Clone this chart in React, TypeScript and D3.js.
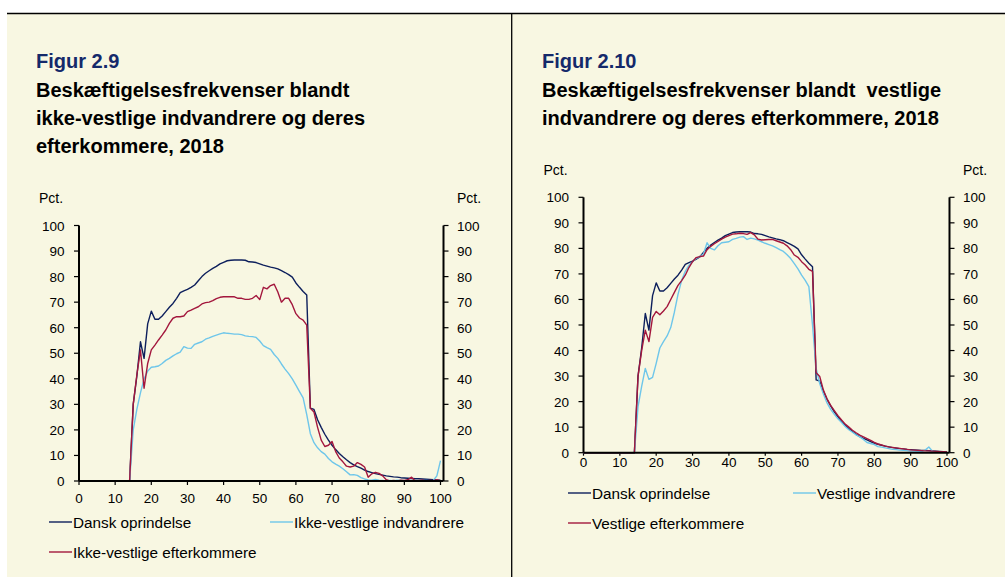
import React from "react";
import * as d3 from "d3";

const ages: number[] = d3.range(0, 101);
const yTicks: number[] = [0, 10, 20, 30, 40, 50, 60, 70, 80, 90, 100];
const xTicks: number[] = [0, 10, 20, 30, 40, 50, 60, 70, 80, 90, 100];

const zeros15 = [0, 0, 0, 0, 0, 0, 0, 0, 0, 0, 0, 0, 0, 0, 0];

// Dansk oprindelse (ages 0-100)
const danskOprindelse: number[] = [
  ...zeros15,
  30, 41, 54.5, 48, 61.5, 66.5, 63.3, 63.3, 64.6, 66.3,
  68, 69.5, 71.5, 73.7, 74.4, 75, 75.8, 76.7, 78.4, 80,
  81.3, 82.3, 83.2, 84, 85, 85.6, 86.2, 86.4, 86.5, 86.5,
  86.5, 86.4, 85.8, 85.7, 85.5, 85, 84.5, 84.1, 83.7, 83.4,
  83, 82.3, 81.6, 80.8, 79.8, 77.5, 75.8, 74.2, 72.8, 28.5,
  28, 24, 21, 18.3, 16, 14, 12.3, 10.8, 9.5, 8.3,
  7.2, 6.3, 5.6, 5, 4.3, 3.7, 3.3, 2.9, 2.6, 2.3,
  2, 1.8, 1.6, 1.5, 1.3, 1.2, 1.1, 1, 0.9, 0.9,
  0.8, 0.7, 0.6, 0.5, 0.4, 0.3,
];

// Ikke-vestlige indvandrere
const ikkeVestligeIndvandrere: number[] = [
  ...zeros15,
  20, 28, 34.5, 40, 43, 44.5, 44.7, 45, 46, 47.2,
  48, 49, 49.8, 50.4, 52.6, 52, 51.9, 53.5, 54, 54.5,
  55.5, 56, 56.6, 57.1, 57.6, 58, 57.8, 57.7, 57.5, 57.5,
  57.3, 56.8, 56.6, 56.5, 56.2, 54.8, 53, 52.2, 51.5, 49.5,
  48, 45.8, 43.8, 42, 40, 37.5, 35, 32.5, 26, 18.5,
  15, 13, 11.5, 10.5, 8.8, 7.5, 6.6, 5.8, 4.8, 3.6,
  2.4, 2.5, 2.2, 1.3, 0.8, 0.4, 0.3, 0.6, 0.3, 0.2,
  0, 0.2, 0.1, 0.3, 0.2, 0.1, 0.3, 0.2, 0.1, 0.2,
  0.1, 0.2, 0.1, 0.2, 2, 8,
];

// Ikke-vestlige efterkommere
const ikkeVestligeEfterkommere: number[] = [
  ...zeros15,
  30, 41.5, 51.3, 36.3, 46, 51.3, 53.2, 55.2, 57.1, 59.1,
  61.7, 63.7, 64.3, 64.3, 64.6, 66.3, 66.9, 67.6, 68.2, 69.3,
  69.8, 70, 70.6, 71.4, 71.9, 72.1, 72.1, 72.1, 72.1, 71.5,
  71.5, 71.1, 71.1, 71.5, 72.6, 71, 75.8, 75.2, 76.5, 77,
  74, 70, 71.5, 71.5, 69, 65.5, 63.8, 63, 61, 28.5,
  27, 21, 16, 13.5, 14, 15.5, 11.5, 9, 7.5, 5.8,
  5.5, 5.8, 7.2, 6.5, 5.5, 1.5, 2.8, 3.4, 3, 2,
  0.5, 0, 0.2, 0, 0.3, 0.2, 0.5, 1.5, 0, 0.2,
  0.3, 0, 0.2, 0.1, 0.5, 0,
];

// Vestlige indvandrere
const vestligeIndvandrere: number[] = [
  ...zeros15,
  18, 26, 33, 28.7, 29.5, 35, 41, 43.5, 45.7, 49,
  55, 62, 67.5, 71, 73.3, 74.8, 76.1, 76.8, 77.8, 82.2,
  80, 79.4, 81, 82.2, 82.4, 82.6, 83.5, 83.9, 84.4, 84.6,
  83.5, 84, 83.7, 83.2, 82.6, 82, 81.5, 81, 80.3, 79.5,
  78.8, 77.5, 76, 74, 72, 69.5, 67.5, 65, 50, 33,
  27, 23, 19.5, 17, 15, 13.3, 11.8, 10.3, 9, 8,
  7, 6.2, 5.2, 4, 3.6, 3.2, 2.4, 2.2, 1.9, 1.6,
  1.3, 1.2, 1, 0.9, 0.8, 0.6, 0.6, 0.5, 0.4, 1,
  2.2, 0.6, 0.3, 0.3, 0.2, 0.1,
];

// Vestlige efterkommere
const vestligeEfterkommere: number[] = [
  ...zeros15,
  30, 40, 48, 43.5, 53, 55.3, 54, 55.5, 57.2, 60,
  62.8, 65.5, 67.4, 69.5, 72.5, 74.8, 76.4, 76.8, 77, 79.5,
  80.8, 81.8, 82.7, 83.6, 84.4, 85, 85.6, 85.7, 85.9, 85.8,
  85.5, 86.2, 85.3, 83.6, 83.3, 83.4, 83.5, 83.5, 83, 82.5,
  82, 81, 79.5, 77.4, 76.5, 74.8, 73.5, 71.8, 71, 31.3,
  29.8, 24.5, 21, 18.5, 16.5, 14.5, 12.8, 11.2, 10, 8.8,
  7.8, 6.9, 6.2, 5.5, 4.8, 4, 3.4, 3, 2.6, 2.3,
  2.1, 1.9, 1.7, 1.5, 1.3, 1.1, 1, 0.9, 0.8, 0.7,
  0.7, 0.6, 0.5, 0.4, 0.4, 0.3,
];

const NAVY = "#0d1f5c";
const RED = "#a3173d";
const LIGHT = "#6ec6ea";
const BG = "#f8f7e2";
const FONT = "Arial, 'Liberation Sans', sans-serif";

type Series = { name: string; values: number[]; color: string };

type Geo = {
  figX: number;
  xLeft: number;
  xRight: number;
  yBottom: number;
  yTop: number;
  rightAxis: number;
  xLabelY: number;
  xTickLen: number;
  legendY: number;
  legendCols: number[];
};

function Panel({
  fig,
  titleLines,
  series,
  legendOrder,
  g,
}: {
  fig: string;
  titleLines: string[];
  series: Series[];
  legendOrder: number[][];
  g: Geo;
}) {
  const x = d3.scaleLinear().domain([0, 100]).range([g.xLeft, g.xRight]);
  const y = d3.scaleLinear().domain([0, 100]).range([g.yBottom, g.yTop]);
  const line = d3
    .line<number>()
    .x((_, i) => x(ages[i]))
    .y((d) => y(d));

  return (
    <g fontFamily={FONT}>
      <text x={g.figX} y={68} fontSize={20} fontWeight="bold" fill="#14296a">
        {fig}
      </text>
      {titleLines.map((t, i) => (
        <text
          key={i}
          x={g.figX}
          y={97 + i * 28}
          fontSize={20}
          fontWeight="bold"
          fill="#000"
          xmlSpace="preserve"
          style={{ whiteSpace: "pre" }}
        >
          {t}
        </text>
      ))}
      <text x={g.xLeft - 40} y={y(100) - 22.5} fontSize={14} fill="#000">
        Pct.
      </text>
      <text x={g.rightAxis + 13.5} y={y(100) - 22.5} fontSize={14} fill="#000">
        Pct.
      </text>
      {yTicks.map((t) => (
        <g key={t}>
          <line x1={g.xLeft - 5} x2={g.xLeft} y1={y(t)} y2={y(t)} stroke="#000" strokeWidth={1.2} />
          <text x={g.xLeft - 14.5} y={y(t) + 5} fontSize={13.5} textAnchor="end" fill="#000">
            {t}
          </text>
          <line x1={g.rightAxis} x2={g.rightAxis + 5} y1={y(t)} y2={y(t)} stroke="#000" strokeWidth={1.2} />
          <text x={g.rightAxis + 13.5} y={y(t) + 5} fontSize={13.5} fill="#000">
            {t}
          </text>
        </g>
      ))}
      {xTicks.map((t) => (
        <g key={t}>
          <line x1={x(t)} x2={x(t)} y1={g.yBottom} y2={g.yBottom + g.xTickLen} stroke="#000" strokeWidth={1.2} />
          <text x={x(t)} y={g.xLabelY} fontSize={13.5} textAnchor="middle" fill="#000">
            {t}
          </text>
        </g>
      ))}
      {series.map((s) => (
        <path key={s.name} d={line(s.values) || ""} fill="none" stroke={s.color} strokeWidth={1.4} strokeLinejoin="round" />
      ))}
      <line x1={g.xLeft} x2={g.xLeft} y1={g.yTop} y2={g.yBottom} stroke="#000" strokeWidth={2} />
      <line x1={g.rightAxis} x2={g.rightAxis} y1={g.yTop} y2={g.yBottom} stroke="#000" strokeWidth={2} />
      <line x1={g.xLeft} x2={g.rightAxis} y1={g.yBottom} y2={g.yBottom} stroke="#000" strokeWidth={2} />
      {legendOrder.map((row, ri) =>
        row.map((si, ci) => {
          const s = series[si];
          const lx = g.legendCols[ci];
          const ly = g.legendY + ri * 30;
          return (
            <g key={s.name}>
              <line x1={lx} x2={lx + 23} y1={ly} y2={ly} stroke={s.color} strokeWidth={1.4} />
              <text x={lx + 24} y={ly + 5.5} fontSize={15.3} fill="#000">
                {s.name}
              </text>
            </g>
          );
        })
      )}
    </g>
  );
}

export default function App() {
  const leftSeries: Series[] = [
    { name: "Dansk oprindelse", values: danskOprindelse, color: NAVY },
    { name: "Ikke-vestlige indvandrere", values: ikkeVestligeIndvandrere, color: LIGHT },
    { name: "Ikke-vestlige efterkommere", values: ikkeVestligeEfterkommere, color: RED },
  ];
  const rightSeries: Series[] = [
    { name: "Dansk oprindelse", values: danskOprindelse, color: NAVY },
    { name: "Vestlige indvandrere", values: vestligeIndvandrere, color: LIGHT },
    { name: "Vestlige efterkommere", values: vestligeEfterkommere, color: RED },
  ];
  return (
    <svg
      width={1005}
      height={577}
      style={{ position: "absolute", left: 0, top: 0, display: "block" }}
    >
      <rect x={0} y={0} width={1005} height={577} fill="#fff" />
      <rect x={7} y={13} width={998} height={564} fill={BG} />
      <line x1={7} x2={1005} y1={13.5} y2={13.5} stroke="#000" strokeWidth={1.3} />
      <line x1={511.7} x2={511.7} y1={13} y2={577} stroke="#000" strokeWidth={1.3} />
      <Panel
        fig="Figur 2.9"
        titleLines={[
          "Beskæftigelsesfrekvenser blandt",
          "ikke-vestlige indvandrere og deres",
          "efterkommere, 2018",
        ]}
        series={leftSeries}
        legendOrder={[[0, 1], [2]]}
        g={{
          figX: 36,
          xLeft: 79,
          xRight: 440.5,
          yBottom: 481,
          yTop: 225.5,
          rightAxis: 443.5,
          xLabelY: 503,
          xTickLen: 4,
          legendY: 522,
          legendCols: [49, 270],
        }}
      />
      <Panel
        fig="Figur 2.10"
        titleLines={[
          "Beskæftigelsesfrekvenser blandt  vestlige",
          "indvandrere og deres efterkommere, 2018",
        ]}
        series={rightSeries}
        legendOrder={[[0, 1], [2]]}
        g={{
          figX: 542,
          xLeft: 583.5,
          xRight: 947,
          yBottom: 452.7,
          yTop: 197.3,
          rightAxis: 949.5,
          xLabelY: 467,
          xTickLen: 3,
          legendY: 493,
          legendCols: [568, 793],
        }}
      />
    </svg>
  );
}
